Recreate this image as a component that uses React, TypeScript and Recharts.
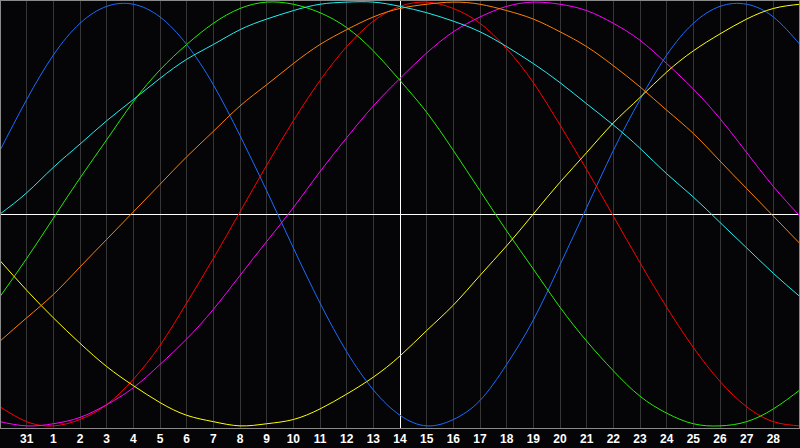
import { LineChart, Line, XAxis, YAxis, CartesianGrid, ReferenceLine } from 'recharts';

// x positions: one per day, from the 30th of last month to the 29th
const days = [
  '30', '31', '1', '2', '3', '4', '5', '6', '7', '8', '9', '10', '11', '12', '13', '14',
  '15', '16', '17', '18', '19', '20', '21', '22', '23', '24', '25', '26', '27', '28', '29',
];

const today = '14';

// cycle values, -1..1 per day
const physical = [
  0.3, 0.54, 0.75, 0.9, 0.98, 0.99, 0.93, 0.8, 0.61, 0.37, 0.11, -0.16, -0.42, -0.65, -0.83, -0.95,
  -1.0, -0.97, -0.88, -0.71, -0.5, -0.24, 0.03, 0.3, 0.54, 0.75, 0.9, 0.98, 0.99, 0.93, 0.8,
];
const emotional = [
  -0.91, -0.98, -1.0, -0.97, -0.9, -0.78, -0.62, -0.42, -0.21, 0.01, 0.23, 0.44, 0.63, 0.79, 0.91, 0.98,
  1.0, 0.97, 0.9, 0.78, 0.62, 0.42, 0.21, -0.01, -0.23, -0.44, -0.63, -0.79, -0.91, -0.98, -1.0,
];
const intellectual = [
  -0.39, -0.21, -0.02, 0.17, 0.35, 0.53, 0.68, 0.8, 0.9, 0.97, 1.0, 0.99, 0.95, 0.88, 0.77, 0.63,
  0.48, 0.3, 0.11, -0.08, -0.26, -0.44, -0.6, -0.74, -0.86, -0.94, -0.99, -1.0, -0.98, -0.92, -0.83,
];
const intuitive = [
  -0.98, -1.0, -0.99, -0.96, -0.9, -0.82, -0.71, -0.59, -0.45, -0.29, -0.13, 0.03, 0.2, 0.36, 0.51, 0.64,
  0.76, 0.86, 0.93, 0.98, 1.0, 0.99, 0.96, 0.9, 0.82, 0.71, 0.59, 0.45, 0.29, 0.13, -0.01,
];
const aesthetic = [
  -0.22, -0.36, -0.49, -0.61, -0.72, -0.81, -0.89, -0.95, -0.98, -1.0, -0.99, -0.97, -0.92, -0.85, -0.77, -0.67,
  -0.55, -0.43, -0.29, -0.15, 0.0, 0.15, 0.29, 0.43, 0.55, 0.67, 0.77, 0.85, 0.92, 0.97, 0.99,
];
const awareness = [
  -0.6, -0.49, -0.38, -0.25, -0.12, 0.01, 0.14, 0.27, 0.39, 0.51, 0.61, 0.71, 0.8, 0.87, 0.93, 0.97,
  0.99, 1.0, 0.99, 0.96, 0.92, 0.86, 0.79, 0.7, 0.6, 0.49, 0.38, 0.25, 0.12, -0.01, -0.14,
];
const spiritual = [
  0.0, 0.1, 0.22, 0.33, 0.44, 0.54, 0.64, 0.73, 0.8, 0.87, 0.92, 0.96, 0.99, 1.0, 1.0, 0.98,
  0.95, 0.91, 0.86, 0.79, 0.71, 0.62, 0.52, 0.42, 0.31, 0.19, 0.08, -0.04, -0.16, -0.28, -0.39,
];

const series = [
  { key: 'physical', color: '#1a6cff' },
  { key: 'emotional', color: '#ff0000' },
  { key: 'intellectual', color: '#22ee00' },
  { key: 'intuitive', color: '#ff00ff' },
  { key: 'aesthetic', color: '#ffff00' },
  { key: 'awareness', color: '#ff8000' },
  { key: 'spiritual', color: '#22eeee' },
];

const data = days.map((day, i) => ({
  day,
  physical: physical[i],
  emotional: emotional[i],
  intellectual: intellectual[i],
  intuitive: intuitive[i],
  aesthetic: aesthetic[i],
  awareness: awareness[i],
  spiritual: spiritual[i],
}));

function DayTick({ x, y, payload }: any) {
  // edge days sit on the border, the original leaves them unlabelled
  if (payload.value === days[0] || payload.value === days[days.length - 1]) return <g />;
  return (
    <text
      x={x}
      y={y + 15}
      textAnchor="middle"
      fill="#ffffff"
      fontSize={12}
      fontWeight="bold"
      fontFamily="'Liberation Sans', Arial, sans-serif"
    >
      {payload.value}
    </text>
  );
}

export default function App() {
  return (
    <div style={{ position: 'absolute', left: 0, top: 0, width: 800, height: 448, background: '#050508' }}>
      <LineChart width={800} height={448} data={data} margin={{ top: 0, right: 0, bottom: 0, left: 0 }}>
        <CartesianGrid horizontal={false} stroke="#363636" shapeRendering="crispEdges" />
        <XAxis
          dataKey="day"
          interval={0}
          height={20}
          tickLine={false}
          axisLine={false}
          tickSize={0}
          tickMargin={0}
          tick={<DayTick />}
        />
        <YAxis hide domain={[-1.01, 1.01]} />
        <ReferenceLine y={0} stroke="#ffffff" shapeRendering="crispEdges" />
        <ReferenceLine x={today} stroke="#ffffff" shapeRendering="crispEdges" />
        {series.map((s) => (
          <Line
            key={s.key}
            type="natural"
            dataKey={s.key}
            stroke={s.color}
            strokeWidth={1}
            dot={false}
            activeDot={false}
            isAnimationActive={false}
          />
        ))}
      </LineChart>
      {/* gray frame round the plot area */}
      <div
        style={{
          position: 'absolute',
          left: 0,
          top: 0,
          width: 800,
          height: 429,
          boxSizing: 'border-box',
          border: '1px solid #8a8a8a',
          pointerEvents: 'none',
        }}
      />
    </div>
  );
}
